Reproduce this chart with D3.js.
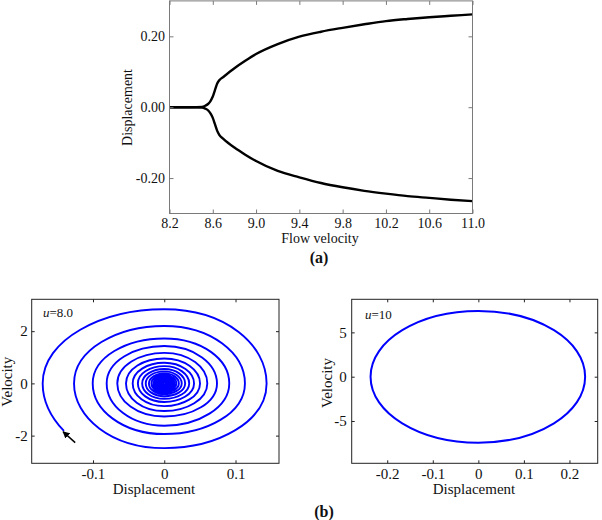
<!DOCTYPE html>
<html><head><meta charset="utf-8">
<script src="https://cdn.jsdelivr.net/npm/d3@7"></script>
<style>
body{margin:0;background:#fff}
svg{display:block}
text{font-family:"Liberation Serif","Times New Roman",serif;fill:#111}
</style>
</head><body>
<svg id="c" width="602" height="520"></svg>
<script>
// ---------- (a) bifurcation diagram ----------
const flowVelocity = [8.2, 8.3, 8.4, 8.5, 8.53, 8.56, 8.58, 8.6, 8.62, 8.64, 8.66, 8.7, 8.8, 8.9, 9.0, 9.2, 9.4, 9.6, 9.8, 10.0, 10.2, 10.4, 10.6, 10.8, 11.0];
const upperDisp = [0, 0, 0, 0.001, 0.004, 0.010, 0.018, 0.030, 0.048, 0.066, 0.076, 0.086, 0.110, 0.131, 0.150, 0.178, 0.199, 0.213, 0.224, 0.234, 0.243, 0.249, 0.254, 0.258, 0.262];
const lowerDisp = [0, 0, 0, -0.001, -0.004, -0.010, -0.018, -0.030, -0.048, -0.066, -0.078, -0.090, -0.114, -0.134, -0.152, -0.180, -0.198, -0.214, -0.226, -0.236, -0.244, -0.251, -0.256, -0.261, -0.265];
const xTicksA = [8.2, 8.6, 9.0, 9.4, 9.8, 10.2, 10.6, 11.0];
const yTicksA = [-0.2, 0, 0.2];

// ---------- (b) left: u = 8.0 decaying spiral (axis crossings per turn) ----------
const spiralStart = [-0.1416, -1.85];
const spiralLead = [[0.175, 0], [0, -3.3]];   // crossings just before the start (not drawn)
const spiralLeftX   = [-0.1706, -0.1266, -0.1004, -0.0808, -0.0659, -0.0537, -0.0443, -0.037, -0.031, -0.026, -0.0215, -0.018, -0.015, -0.0125, -0.0105, -0.0088, -0.0073, -0.006, -0.005, -0.004, -0.0033, -0.0027, -0.002];
const spiralTopV    = [2.84, 2.20, 1.72, 1.43, 1.17, 0.955, 0.79, 0.66, 0.55, 0.46, 0.385, 0.32, 0.27, 0.225, 0.19, 0.16, 0.13, 0.11, 0.09, 0.075, 0.062, 0.05, 0.04];
const spiralRightX  = [0.1436, 0.1132, 0.0912, 0.0740, 0.0604, 0.0502, 0.0418, 0.035, 0.0293, 0.0245, 0.0205, 0.017, 0.0142, 0.0118, 0.0099, 0.0083, 0.0069, 0.0057, 0.0047, 0.0038, 0.0031, 0.0025, 0.002];
const spiralBottomV = [-2.48, -1.94, -1.62, -1.27, -1.06, -0.87, -0.71, -0.59, -0.49, -0.41, -0.345, -0.29, -0.24, -0.20, -0.167, -0.14, -0.117, -0.097, -0.08, -0.066, -0.055, -0.045, -0.036];
const arrowFrom = [-0.125, -2.27];
const arrowTo = [-0.142, -1.85];
const xTicksB1 = [-0.1, 0, 0.1];
const yTicksB1 = [-2, 0, 2];

// ---------- (b) right: u = 10 limit cycle (axis crossings) ----------
const cycleX = [-0.2366, 0, 0.2344, 0];
const cycleV = [0, 7.41, 0, -7.44];
const xTicksB2 = [-0.2, -0.1, 0, 0.1, 0.2];
const yTicksB2 = [-5, 0, 5];

const svg = d3.select("#c");
const hy = d => d < 0 ? "-" + String(-d) : String(d);

function frame(x, y, xt, yt, fx, fy, o) {
  const [x0, x1] = x.range(), [y0, y1] = y.range();
  const g = svg.append("g");
  const L = o.tick;
  const ax = [
    [d3.axisBottom(x).tickValues(xt).tickSize(-L).tickPadding(o.padX).tickFormat(fx), `translate(0,${y0})`],
    [d3.axisTop(x).tickValues(xt).tickSize(-L).tickFormat(""), `translate(0,${y1})`],
    [d3.axisLeft(y).tickValues(yt).tickSize(-L).tickPadding(o.padY).tickFormat(fy), `translate(${x0},0)`],
    [d3.axisRight(y).tickValues(yt).tickSize(-L).tickFormat(""), `translate(${x1},0)`]
  ];
  ax.forEach(([a, t]) => {
    const s = g.append("g").attr("transform", t).call(a);
    s.select(".domain").remove();
    s.selectAll(".tick line").attr("stroke", o.color).attr("stroke-width", 1);
    s.selectAll(".tick text").attr("font-family", '"Liberation Serif",serif').attr("font-size", o.fs).attr("fill", "#111");
  });
  g.append("rect").attr("x", x0).attr("y", y1).attr("width", x1 - x0).attr("height", y0 - y1)
    .attr("fill", "none").attr("stroke", o.color).attr("stroke-width", 1);
  return g;
}

// ===== (a) =====
const xa = d3.scaleLinear().domain([8.2, 11.0]).range([169.5, 472.5]);
const ya = d3.scaleLinear().domain([-0.3, 0.3]).range([213.5, 0.9]);
const lineA = d3.line().x(d => xa(d[0])).y(d => ya(d[1])).curve(d3.curveMonotoneX);
[upperDisp, lowerDisp].forEach(arr => {
  svg.append("path").datum(flowVelocity.map((v, i) => [v, arr[i]]))
    .attr("d", lineA).attr("fill", "none").attr("stroke", "#000").attr("stroke-width", 2.4);
});
frame(xa, ya, xTicksA, yTicksA, d => d.toFixed(1), d => (d < 0 ? "-" : "") + Math.abs(d).toFixed(2),
  {tick: 4, padX: 5, padY: 4.5, color: "#7a7a7a", fs: 14});
svg.append("text").attr("transform", "translate(127,107.5) rotate(-90)").attr("text-anchor", "middle")
  .attr("dy", "0.35em").attr("font-size", 14).text("Displacement");
svg.append("text").attr("x", 320).attr("y", 238).attr("text-anchor", "middle").attr("dy", "0.35em")
  .attr("font-size", 14).text("Flow velocity");
svg.append("text").attr("x", 319).attr("y", 257).attr("text-anchor", "middle").attr("dy", "0.35em")
  .attr("font-size", 16).attr("font-weight", "bold").text("(a)");

// ===== (b) left =====
const xb1 = d3.scaleLinear().domain([-0.186, 0.161]).range([31.7, 279]);
const yb1 = d3.scaleLinear().domain([-3.06, 3.22]).range([463.3, 299.3]);
const spiralPts = spiralLead.slice();
spiralLeftX.forEach((lx, i) => {
  spiralPts.push([lx, 0], [0, spiralTopV[i]], [spiralRightX[i], 0], [0, spiralBottomV[i]]);
});
const lineB1 = d3.line().x(d => xb1(d[0])).y(d => yb1(d[1])).curve(d3.curveCardinal.tension(-0.657));
const spiral = svg.append("path").datum(spiralPts).attr("d", lineB1).attr("fill", "none")
  .attr("stroke", "#0000ff").attr("stroke-width", 1.9);
// hide the lead-in before the starting point
(function () {
  const node = spiral.node(), total = node.getTotalLength();
  const sx = xb1(spiralStart[0]), sy = yb1(spiralStart[1]);
  let best = 0, bestD = Infinity;
  for (let l = 0; l < 600 && l < total; l += 0.25) {
    const p = node.getPointAtLength(l);
    const d = (p.x - sx) ** 2 + (p.y - sy) ** 2;
    if (d < bestD) { bestD = d; best = l; }
  }
  spiral.attr("stroke-dasharray", `0 ${best} ${total + 10}`);
})();
svg.append("defs").append("marker").attr("id", "ah").attr("viewBox", "0 0 10 10")
  .attr("refX", 9).attr("refY", 5).attr("markerWidth", 7).attr("markerHeight", 7)
  .attr("markerUnits", "userSpaceOnUse").attr("orient", "auto")
  .append("path").attr("d", "M0,0L10,5L0,10z").attr("fill", "#000");
svg.append("line").attr("x1", xb1(arrowFrom[0])).attr("y1", yb1(arrowFrom[1]))
  .attr("x2", xb1(arrowTo[0])).attr("y2", yb1(arrowTo[1]))
  .attr("stroke", "#000").attr("stroke-width", 1.5).attr("marker-end", "url(#ah)");
frame(xb1, yb1, xTicksB1, yTicksB1, hy, hy, {tick: 3, padX: 5, padY: 4, color: "#222", fs: 15});
const t1 = svg.append("text").attr("x", 43).attr("y", 317).attr("font-size", 13)
  .attr("font-family", '"Liberation Sans",Arial,sans-serif');
t1.append("tspan").attr("font-style", "italic").text("u");
t1.append("tspan").text("=8.0");
svg.append("text").attr("transform", "translate(6.5,381.7) rotate(-90)").attr("text-anchor", "middle")
  .attr("dy", "0.35em").attr("font-size", 15).text("Velocity");
svg.append("text").attr("x", 154).attr("y", 489).attr("text-anchor", "middle").attr("dy", "0.35em")
  .attr("font-size", 15).text("Displacement");

// ===== (b) right =====
const xb2 = d3.scaleLinear().domain([-0.278, 0.262]).range([351.7, 597.7]);
const yb2 = d3.scaleLinear().domain([-9.77, 8.73]).range([463.3, 299.3]);
const lineB2 = d3.line().x(d => xb2(d[0])).y(d => yb2(d[1])).curve(d3.curveCardinalClosed.tension(-0.657));
svg.append("path").datum(cycleX.map((v, i) => [v, cycleV[i]])).attr("d", lineB2)
  .attr("fill", "none").attr("stroke", "#0000ff").attr("stroke-width", 2);
frame(xb2, yb2, xTicksB2, yTicksB2, hy, hy, {tick: 3, padX: 5, padY: 5, color: "#222", fs: 15});
const t2 = svg.append("text").attr("x", 365).attr("y", 319).attr("font-size", 13)
  .attr("font-family", '"Liberation Sans",Arial,sans-serif');
t2.append("tspan").attr("font-style", "italic").text("u");
t2.append("tspan").text("=10");
svg.append("text").attr("transform", "translate(326.5,383) rotate(-90)").attr("text-anchor", "middle")
  .attr("dy", "0.35em").attr("font-size", 15).text("Velocity");
svg.append("text").attr("x", 474).attr("y", 489).attr("text-anchor", "middle").attr("dy", "0.35em")
  .attr("font-size", 15).text("Displacement");
svg.append("text").attr("x", 324).attr("y", 511).attr("text-anchor", "middle").attr("dy", "0.35em")
  .attr("font-size", 16).attr("font-weight", "bold").text("(b)");
</script>
</body></html>
